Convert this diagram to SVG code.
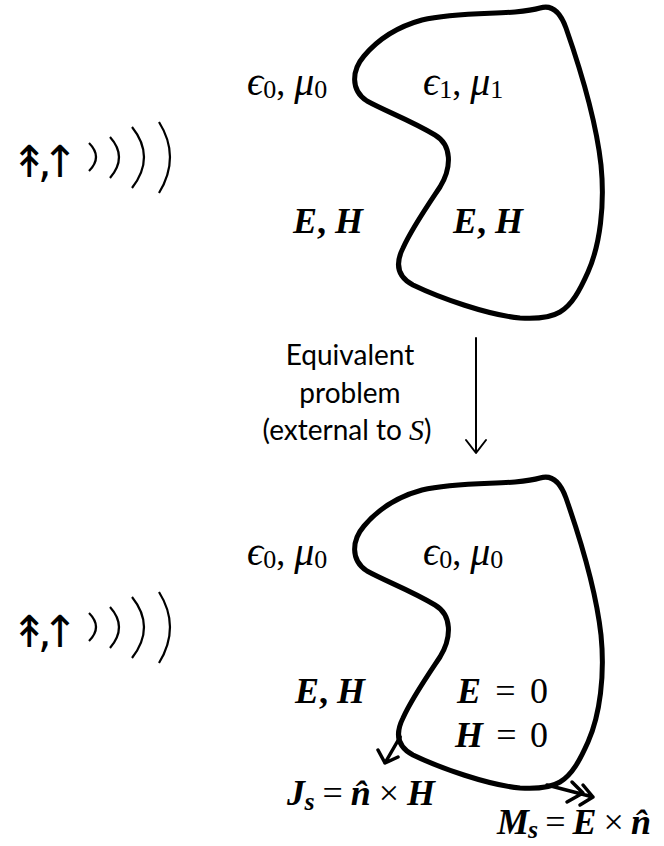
<svg xmlns="http://www.w3.org/2000/svg" xmlns:xlink="http://www.w3.org/1999/xlink" width="664" height="846" viewBox="0 0 664 846">
<style>
.blob{fill:none;stroke:#000;stroke-width:5;stroke-linejoin:round;stroke-linecap:round}
.wave{fill:none;stroke:#000;stroke-width:2.2}
.conn{fill:none;stroke:#000;stroke-linecap:round;stroke-linejoin:round}
.m{font-family:"Liberation Serif","DejaVu Serif",serif;font-style:italic;font-size:36px;fill:#000}
.g{font-size:40px}
.b{font-weight:bold}
.up{font-family:"DejaVu Sans ExtraLight","DejaVu Sans",sans-serif;font-size:44px;fill:#000;letter-spacing:-10px}
.lbl{font-family:Lato,"Liberation Sans",sans-serif;font-size:28px;fill:#000;text-anchor:middle}
.sub{font-size:26px}
.r{font-style:normal}
.n{font-weight:normal}
</style>
<defs>
<path id="shape" d="M540,8 C553,4 561,14 566,28 C580,68 596,120 601,165 C605,205 600,245 588,272 C580,290 572,305 560,312 C550,318 535,319 520,318 C488,315 440,298 413,285 C396,276 396,262 403,248 C412,228 428,205 440,187 C452,167 452,145 435,135 C410,120 385,111 367,101 C350,90 352,70 364,56 C380,37 400,26 422,20 C452,13 490,14 515,12 C525,11 533,10 540,8 Z"/>
<g id="waves">
<path class="wave" d="M89,143 Q103,157 89,171"/>
<path class="wave" d="M110,137 Q128,157 110,178"/>
<path class="wave" d="M132,127 Q156,157 132,188"/>
<path class="wave" d="M159,122 Q181,157 159,193"/>
</g>
</defs>

<g id="top-scatterer">
<use xlink:href="#shape" class="blob"/>
</g>
<g id="top-source">
<text class="up" x="11" y="177">↟,↑</text>
<use xlink:href="#waves"/>
</g>
<g id="top-labels">
<text class="m" x="247" y="95"><tspan class="g">ϵ</tspan><tspan class="r sub" dy="3">0</tspan><tspan class="r" dy="-3">, </tspan><tspan class="g">μ</tspan><tspan class="r sub" dy="3">0</tspan></text>
<text class="m" x="423" y="95"><tspan class="g">ϵ</tspan><tspan class="r sub" dy="3">1</tspan><tspan class="r" dy="-3">, </tspan><tspan class="g">μ</tspan><tspan class="r sub" dy="3">1</tspan></text>
<text class="m b" x="293" y="233">E<tspan class="r">, </tspan>H</text>
<text class="m b" x="453" y="233">E<tspan class="r">, </tspan>H</text>
</g>

<g id="equivalent-label">
<text class="lbl" x="350" y="365">Equivalent</text>
<text class="lbl" x="350" y="403">problem</text>
<text class="lbl" x="347" y="440">(external to <tspan style="font-family:'Liberation Serif','DejaVu Serif',serif;font-style:italic;font-size:30px">S</tspan>)</text>
</g>

<g id="bottom-scatterer">
<use xlink:href="#shape" class="blob" transform="translate(0,470)"/>
</g>
<g id="bottom-source">
<text class="up" x="11" y="647">↟,↑</text>
<use xlink:href="#waves" transform="translate(0,470)"/>
</g>
<g id="bottom-labels">
<text class="m" x="247" y="565"><tspan class="g">ϵ</tspan><tspan class="r sub" dy="3">0</tspan><tspan class="r" dy="-3">, </tspan><tspan class="g">μ</tspan><tspan class="r sub" dy="3">0</tspan></text>
<text class="m" x="423" y="565"><tspan class="g">ϵ</tspan><tspan class="r sub" dy="3">0</tspan><tspan class="r" dy="-3">, </tspan><tspan class="g">μ</tspan><tspan class="r sub" dy="3">0</tspan></text>
<text class="m b" x="295" y="703">E<tspan class="r">, </tspan>H</text>
<text class="m b" x="457" y="703" textLength="91">E<tspan class="r n"> = 0</tspan></text>
<text class="m b" x="455" y="747" textLength="93">H<tspan class="r n"> = 0</tspan></text>
<text class="m b" x="287" y="805" textLength="148">J<tspan class="sub" dy="5">s</tspan><tspan class="r n" dy="-5"> = </tspan>n̂<tspan class="r n"> × </tspan>H</text>
<text class="m b" x="497" y="834" textLength="154">M<tspan class="sub" dy="4">s</tspan><tspan class="r n" dy="-4"> = </tspan>E<tspan class="r n"> × </tspan>n̂</text>
</g>

<g id="connectors">
<path class="conn" stroke-width="2" d="M476,338 L476,452 M466,440 L476,453 L486,440"/>
<path class="conn" stroke-width="3.5" d="M400,737 L385,763 M378,750 L385,763 L398,757"/>
<path class="conn" stroke-width="3.5" d="M547,785 L593,797 M583,785 L593,797 L580,805 M572,782 L583,793 L567,802"/>
</g>
</svg>
